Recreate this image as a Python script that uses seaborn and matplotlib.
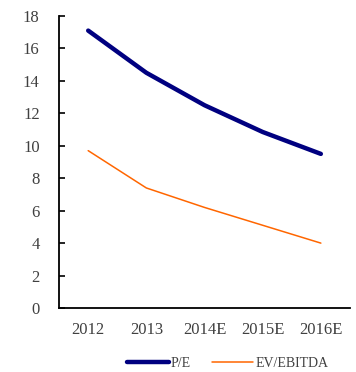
import pandas as pd
import matplotlib
matplotlib.use("Agg")
import matplotlib.pyplot as plt
import seaborn as sns

# ----------------------------------------------------------
# DATA
# ----------------------------------------------------------
years = ["2012", "2013", "2014E", "2015E", "2016E"]
pe = [17.1, 14.5, 12.5, 10.85, 9.5]
ev_ebitda = [9.7, 7.4, 6.2, 5.1, 4.0]

df = pd.DataFrame({
    "year": years * 2,
    "value": pe + ev_ebitda,
    "series": ["P/E"] * len(years) + ["EV/EBITDA"] * len(years),
})

# ----------------------------------------------------------
# PLOT
# ----------------------------------------------------------
sns.set_style("white")
plt.rcParams["font.family"] = ["Liberation Serif", "DejaVu Serif"]

fig = plt.figure(figsize=(3.56, 3.72), dpi=100)
ax = fig.add_axes([0.166, 0.172, 0.817, 0.785])

sns.lineplot(
    data=df, x="year", y="value", hue="series", size="series",
    palette={"P/E": "#000080", "EV/EBITDA": "#FF6600"},
    sizes={"P/E": 3.2, "EV/EBITDA": 1.1},
    sort=False, ax=ax,
)
for ln in ax.lines:
    ln.set_solid_capstyle("round")

ax.set_ylim(0, 18)
ax.set_yticks(range(0, 19, 2))
ax.set_xlim(-0.5, len(years) - 0.5)
ax.set_xticks([i - 0.5 for i in range(len(years) + 1)])
ax.set_xticklabels([])
ax.set_xticks(range(len(years)), minor=True)
ax.set_xticklabels(years, minor=True)
ax.tick_params(axis="x", which="major", direction="in", length=4, width=1.2, color="black")
ax.tick_params(axis="x", which="minor", length=0, pad=10, labelsize=12, labelcolor="#404040")
ax.tick_params(axis="y", direction="in", length=4, width=1.2, color="black",
               labelsize=12, labelcolor="#404040", pad=14, left=True)
ax.set_xlabel("")
ax.set_ylabel("")

for s in ["top", "right"]:
    ax.spines[s].set_visible(False)
for s in ["left", "bottom"]:
    ax.spines[s].set_color("black")
    ax.spines[s].set_linewidth(1.3)

handles, labels = ax.get_legend_handles_labels()
ax.legend(handles, labels, loc="center", bbox_to_anchor=(0.58, -0.19),
          ncol=2, frameon=False, fontsize=10, handlelength=3,
          columnspacing=1.5, handletextpad=0.15, labelcolor="#404040")

fig.savefig("out.png", dpi=100)
